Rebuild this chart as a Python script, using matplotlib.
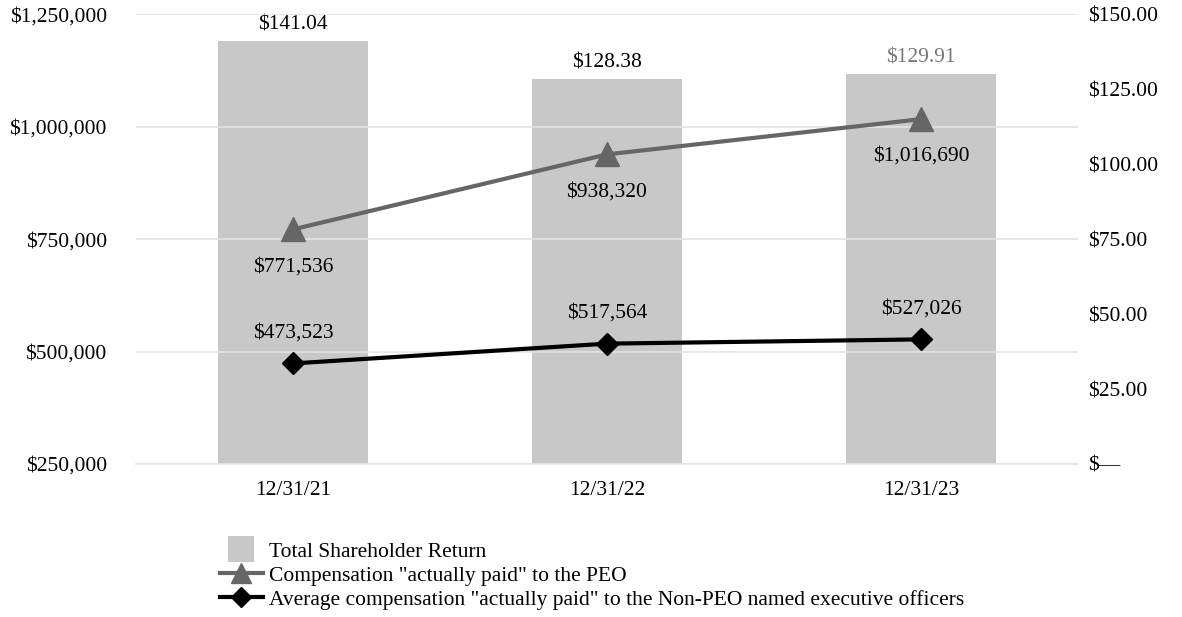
import matplotlib
matplotlib.use("Agg")
import matplotlib.pyplot as plt
from matplotlib.lines import Line2D
from matplotlib.patches import Patch, Rectangle
from matplotlib.legend_handler import HandlerPatch

categories = ["12/31/21", "12/31/22", "12/31/23"]
tsr = [141.04, 128.38, 129.91]
peo_cap = [771536, 938320, 1016690]
neo_cap = [473523, 517564, 527026]
tsr_labels = ["$141.04", "$128.38", "$129.91"]
left_ticks = [250000, 500000, 750000, 1000000, 1250000]
left_ticklabels = ["$250,000", "$500,000", "$750,000", "$1,000,000", "$1,250,000"]
right_ticks = [0, 25, 50, 75, 100, 125, 150]
right_ticklabels = ["$\u2014", "$25.00", "$50.00", "$75.00", "$100.00", "$125.00", "$150.00"]
legend_labels = ["Total Shareholder Return",
                 'Compensation "actually paid" to the PEO',
                 'Average compensation "actually paid" to the Non-PEO named executive officers']

plt.rcParams['font.family'] = ['Liberation Serif', 'DejaVu Serif']
FS = 15.5

fig = plt.figure(figsize=(11.82, 6.17), dpi=100)
ax = fig.add_axes([0.115, 0.248, 0.797, 0.729])
ax2 = ax.twinx()

x = list(range(len(categories)))
bar_color = "#c8c8c8"
peo_color = "#666666"

# bars on right axis
ax2.bar(x, tsr, width=0.48, color=bar_color, zorder=1)
ax2.set_ylim(0, 150)
ax2.set_yticks(right_ticks)
ax2.set_yticklabels(right_ticklabels, fontsize=FS)
ax2.tick_params(axis='y', length=0, pad=7)
label_colors = ["black", "black", "#777777"]
for xi, v, lab, c in zip(x, tsr, tsr_labels, label_colors):
    ax2.text(xi, v + 2.2, lab, ha='center', va='bottom', fontsize=FS, color=c)

# lines on left axis, drawn above bars
ax.set_zorder(ax2.get_zorder() + 1)
ax.patch.set_visible(False)
ax.set_ylim(250000, 1250000)
ax.set_xlim(-0.5, 2.5)
ax.set_yticks(left_ticks)
ax.set_yticklabels(left_ticklabels, fontsize=FS)
ax.tick_params(axis='y', length=0, pad=21)
ax.set_xticks(x)
ax.set_xticklabels(categories, fontsize=FS)
ax.tick_params(axis='x', length=0, pad=12)
ax.grid(axis='y', color='#e3e3e3', linewidth=1.2)
ax.set_axisbelow(True)

ax.plot(x, peo_cap, color=peo_color, linewidth=3, marker='^', markersize=17,
        markerfacecolor=peo_color, markeredgecolor=peo_color, zorder=3)
ax.plot(x, neo_cap, color='black', linewidth=3, marker='D', markersize=11,
        markerfacecolor='black', markeredgecolor='black', zorder=3)

for xi, v in zip(x, peo_cap):
    ax.text(xi, v - 62000, f"${v:,}", ha='center', va='top', fontsize=FS)
for xi, v in zip(x, neo_cap):
    ax.text(xi, v + 47000, f"${v:,}", ha='center', va='bottom', fontsize=FS)

for a in (ax, ax2):
    for s in a.spines.values():
        s.set_visible(False)
ax.spines['bottom'].set_visible(True)
ax.spines['bottom'].set_color('#e3e3e3')
ax.spines['bottom'].set_linewidth(1.2)


def square_patch(legend, orig_handle, xdescent, ydescent, width, height, fontsize):
    s = height * 1.45
    return Rectangle((-xdescent + (width - s) / 2, -ydescent + (height - s) / 2), s, s)


handles = [Patch(facecolor=bar_color, edgecolor='none'),
           Line2D([0], [0], color=peo_color, linewidth=3, marker='^', markersize=14),
           Line2D([0], [0], color='black', linewidth=3, marker='D', markersize=10)]
fig.legend(handles, legend_labels, loc='upper left', bbox_to_anchor=(0.186, 0.124),
           frameon=False, fontsize=FS, handlelength=2.0, handleheight=0.9,
           handletextpad=0.3, labelspacing=0.12, borderpad=0, borderaxespad=0,
           handler_map={Patch: HandlerPatch(patch_func=square_patch)})

fig.savefig("out.png", dpi=100)
